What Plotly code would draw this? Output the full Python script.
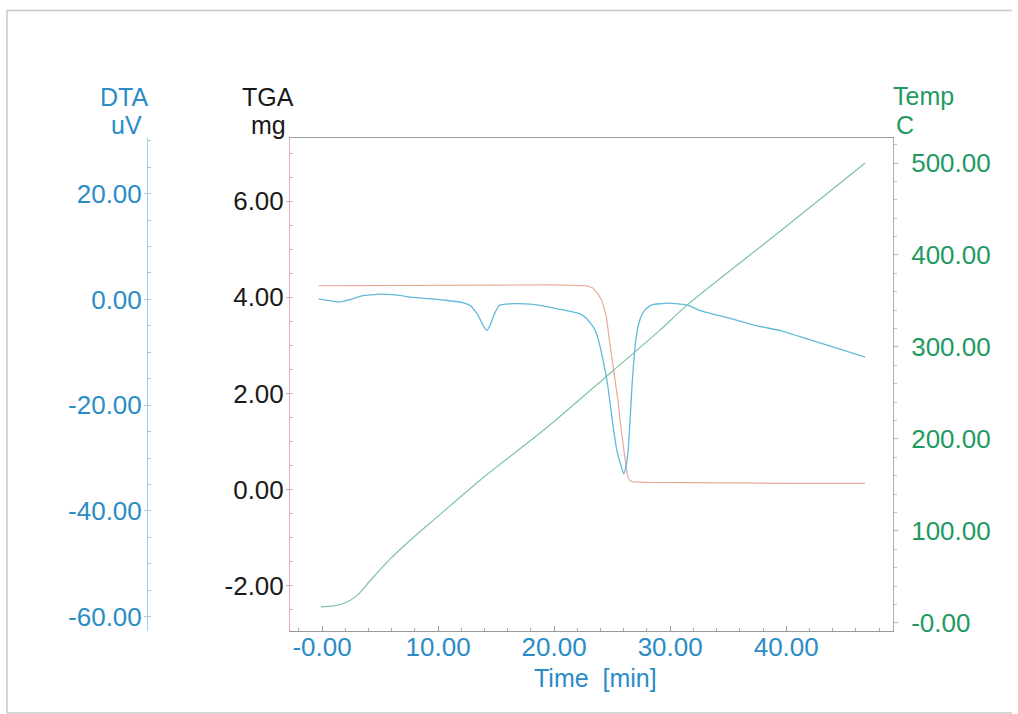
import plotly.graph_objects as go

# ---------------- data ----------------
dta_time = [-0.3, 0.5, 1.4, 2.5, 3.5, 5.0, 6.5, 7.8, 9.5, 10.8, 12.1, 12.8, 13.4, 13.9, 14.2,
            14.5, 14.9, 15.3, 16.5, 18.0, 19.5, 20.5, 21.5, 22.2, 22.8, 23.4, 23.8, 24.1,
            24.6, 25.1, 25.4, 25.7, 26.0, 26.2, 26.4, 26.7, 27.0, 27.3, 27.6, 28.0, 28.5,
            29.7, 30.5, 31.5, 32.6, 35.0, 37.5, 39.5, 42.0, 44.5, 46.8]
dta_uv = [0.1, -0.2, -0.5, 0.0, 0.7, 1.0, 0.8, 0.4, 0.1, -0.2, -0.6, -1.2, -2.8, -5.0, -5.9,
          -4.8, -2.5, -1.1, -0.8, -0.9, -1.4, -1.9, -2.3, -2.7, -3.6, -5.3, -7.5, -10.3,
          -16.0, -24.3, -28.5, -31.0, -33.0, -31.5, -28.0, -16.7, -8.3, -4.5, -2.7, -1.6, -1.0,
          -0.7, -0.8, -1.1, -2.1, -3.5, -5.0, -5.9, -7.6, -9.3, -10.9]

tga_time = [-0.3, 5.0, 10.0, 15.0, 20.0, 22.0, 22.8, 23.3, 23.7, 24.1, 24.5, 24.8, 25.2,
            25.5, 25.8, 26.1, 26.3, 26.5, 26.8, 28.0, 32.0, 40.0, 46.8]
tga_mg = [4.24, 4.24, 4.25, 4.255, 4.26, 4.255, 4.24, 4.2, 4.1, 3.94, 3.6, 3.04, 2.4,
          1.85, 1.2, 0.6, 0.3, 0.19, 0.16, 0.15, 0.14, 0.13, 0.13]

temp_time = [-0.1, 1.0, 1.84, 2.99, 4.14, 5.86, 7.87, 9.88, 13.8, 19.4, 25.1, 29.1,
             31.4, 39.5, 46.8]
temp_c = [17.4, 18.5, 21.0, 29.4, 45.8, 69.4, 92.9, 114.7, 157.0, 212.7, 274.5, 318.0,
          345.0, 426.0, 500.0]

time_ticks = [0, 10, 20, 30, 40]
time_labels = ["-0.00", "10.00", "20.00", "30.00", "40.00"]
tga_ticks = [-2, 0, 2, 4, 6]
tga_labels = ["-2.00", "0.00", "2.00", "4.00", "6.00"]
dta_ticks = [-60, -40, -20, 0, 20]
dta_labels = ["-60.00", "-40.00", "-20.00", "0.00", "20.00"]
temp_ticks = [0, 100, 200, 300, 400, 500]
temp_labels = ["-0.00", "100.00", "200.00", "300.00", "400.00", "500.00"]

# ---------------- styling ----------------
W, H = 1018, 722
REF_H = 714
FONT = "Liberation Sans, Arial, Helvetica, sans-serif"
FS = 26
FS_T = 25
BLUE = "#2b8cc6"
GREEN = "#1f9a5f"
BLACK = "#1a1a1a"

def px_x(p):
    return p / W

def px_y(p):
    return 1 - p / REF_H

x_dom = [px_x(290), px_x(893)]
y_dom = [px_y(630), px_y(138)]

fig = go.Figure()
fig.add_trace(go.Scatter(x=temp_time, y=temp_c, mode="lines", yaxis="y3",
                         line=dict(color="#80c2a6", width=1.2, shape="spline", smoothing=0.8),
                         name="Temp"))
fig.add_trace(go.Scatter(x=tga_time, y=tga_mg, mode="lines", yaxis="y",
                         line=dict(color="#e9a898", width=1.2), name="TGA"))
fig.add_trace(go.Scatter(x=dta_time, y=dta_uv, mode="lines", yaxis="y2",
                         line=dict(color="#62b9dc", width=1.3, shape="spline", smoothing=0.4),
                         name="DTA"))

fig.update_layout(
    width=W, height=H,
    margin=dict(l=0, r=0, t=0, b=0),
    paper_bgcolor="white", plot_bgcolor="white",
    showlegend=False,
    font=dict(family=FONT, size=FS),
    xaxis=dict(domain=x_dom, range=[-2.76, 49.2], anchor="y",
               tickvals=time_ticks, ticktext=time_labels,
               tickfont=dict(color=BLUE, size=FS, family=FONT),
               showgrid=False, zeroline=False, showline=True, linecolor="#9a9a9a",
               linewidth=1, mirror=True, ticks="inside", ticklen=5, tickcolor="#9a9a9a",
               ticklabelstandoff=-7,
               minor=dict(dtick=2, ticks="inside", ticklen=3, tickcolor="#aaaaaa")),
    yaxis=dict(domain=y_dom, range=[-2.94, 7.31], anchor="x", side="left",
               tickvals=tga_ticks, ticktext=tga_labels,
               tickfont=dict(color=BLACK, size=FS, family=FONT),
               showgrid=False, zeroline=False, showline=True, linecolor="#e2b0aa",
               linewidth=1, ticks="outside", ticklen=3, tickcolor="#bbbbbb",
               ticklabelstandoff=-3,
               minor=dict(dtick=0.5, ticks="inside", ticklen=3, tickcolor="#bbbbbb")),
    yaxis2=dict(overlaying="y", anchor="free", position=px_x(147), side="left",
                range=[-62.7, 30.5],
                tickvals=dta_ticks, ticktext=dta_labels,
                tickfont=dict(color=BLUE, size=FS, family=FONT),
                showgrid=False, zeroline=False, showline=True, linecolor="#9fd0ea",
                linewidth=1, ticks="outside", ticklen=3, tickcolor="#9fd0ea",
                ticklabelstandoff=-3,
                minor=dict(dtick=5, ticks="inside", ticklen=3, tickcolor="#c0c0c0")),
    yaxis3=dict(overlaying="y", anchor="x", side="right", range=[-8.7, 527],
                tickvals=temp_ticks, ticktext=temp_labels,
                tickfont=dict(color=GREEN, size=FS, family=FONT),
                showgrid=False, zeroline=False, showline=True, linecolor="#b0b0b0",
                linewidth=1, ticks="outside", ticklen=4, tickcolor="#b0b0b0",
                ticklabelstandoff=8,
                minor=dict(dtick=20, ticks="outside", ticklen=3, tickcolor="#c0c0c0")),
)

def title(text, x, y, color):
    fig.add_annotation(text=text, x=px_x(x), y=px_y(y), xref="paper", yref="paper",
                       showarrow=False, xanchor="center", yanchor="middle",
                       font=dict(family=FONT, size=FS_T, color=color))

title("DTA", 124, 97, BLUE)
title("uV", 126, 125, BLUE)
title("TGA", 268, 97, BLACK)
title("mg", 268, 125, BLACK)
title("Temp", 923, 96, GREEN)
title("C", 905, 125, GREEN)
title("Time  [min]", 595, 677, BLUE)

# faint page frame (scan border)
frame = dict(type="line", xref="paper", yref="paper", line=dict(color="#c8c8c8", width=1.5))
fig.add_shape(x0=px_x(7), x1=px_x(7), y0=px_y(712), y1=px_y(10.5), **frame)
fig.add_shape(x0=px_x(7), x1=px_x(1012), y0=px_y(10.5), y1=px_y(10.5), **frame)
fig.add_shape(x0=px_x(7), x1=px_x(1012), y0=px_y(712), y1=px_y(712), **frame)

fig.write_html("out.html", config={"displayModeBar": False},
               post_script="document.body.style.margin='0';")
